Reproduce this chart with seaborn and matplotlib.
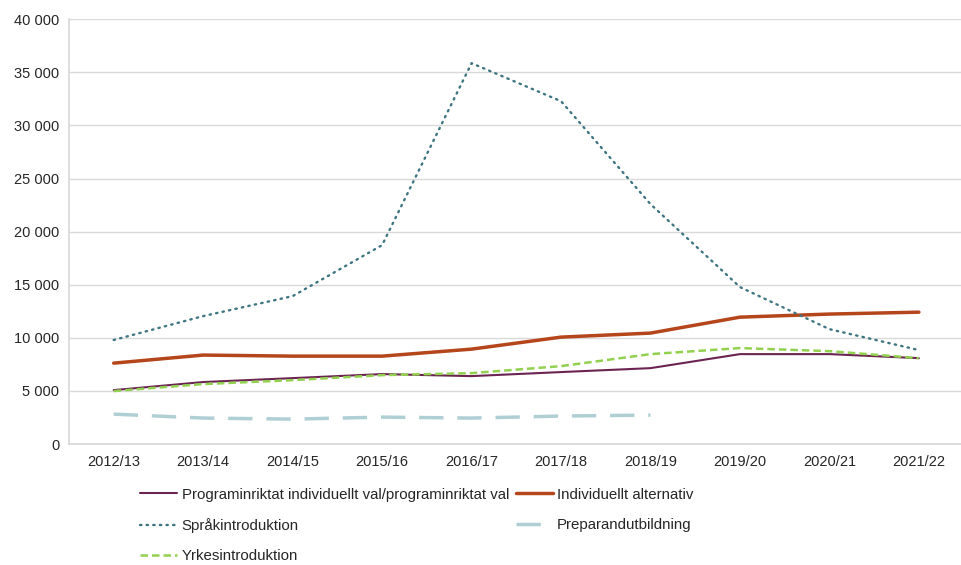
import matplotlib
matplotlib.use("Agg")
import matplotlib.pyplot as plt
import matplotlib.ticker as mticker
import numpy as np
import pandas as pd
import seaborn as sns

years = ["2012/13", "2013/14", "2014/15", "2015/16", "2016/17",
         "2017/18", "2018/19", "2019/20", "2020/21", "2021/22"]

programinriktat = [5080, 5840, 6210, 6590, 6400, 6780, 7150, 8470, 8470, 8090]
individuellt = [7620, 8380, 8280, 8280, 8940, 10070, 10450, 11950, 12240, 12420]
sprak = [9800, 12050, 13930, 18730, 35860, 32280, 22590, 14780, 10820, 8850]
preparand = [2820, 2450, 2350, 2540, 2450, 2640, 2730, np.nan, np.nan, np.nan]
yrkes = [4990, 5650, 6020, 6490, 6680, 7340, 8470, 9040, 8750, 8090]

series_names = ["Programinriktat individuellt val/programinriktat val",
                "Individuellt alternativ",
                "Språkintroduktion",
                "Preparandutbildning",
                "Yrkesintroduktion"]

sns.set_theme(style="white")
plt.rcParams["font.family"] = ["Liberation Sans", "DejaVu Sans"]

fig = plt.figure(figsize=(9.62, 5.65), dpi=100)
ax = fig.add_axes([0.0717, 0.214, 0.93, 0.752])

x = np.arange(len(years))
df = pd.DataFrame({"x": x,
                   series_names[0]: programinriktat,
                   series_names[1]: individuellt,
                   series_names[2]: sprak,
                   series_names[3]: preparand,
                   series_names[4]: yrkes})

styles = {
    series_names[0]: dict(color="#6b2452", lw=1.5, ls="-"),
    series_names[1]: dict(color="#b5451b", lw=2.5, ls="-"),
    series_names[2]: dict(color="#3e7580", lw=1.7, ls=(0, (0.6, 2.2))),
    series_names[3]: dict(color="#b0cfd5", lw=2.5, ls=(0, (7, 4))),
    series_names[4]: dict(color="#92d050", lw=1.8, ls=(0, (3, 1.6))),
}

handles = {}
for name in series_names:
    st = styles[name]
    sns.lineplot(data=df, x="x", y=name, ax=ax, color=st["color"],
                 linewidth=st["lw"], linestyle=st["ls"], label=name,
                 legend=False)
    handles[name] = ax.lines[-1]
    if name == series_names[2]:
        ax.lines[-1].set_dash_capstyle("round")

ax.set_xlim(-0.5, len(years) - 0.5)
ax.set_ylim(0, 40000)
ax.set_xticks(x)
ax.set_xticklabels(years, fontsize=10.5)
ax.yaxis.set_major_locator(mticker.MultipleLocator(5000))
ax.yaxis.set_major_formatter(mticker.FuncFormatter(
    lambda v, p: f"{int(v):,}".replace(",", " ")))
ax.tick_params(axis="y", labelsize=10.5, length=0, pad=7)
ax.tick_params(axis="x", length=0, pad=8)
ax.set_xlabel("")
ax.set_ylabel("")
ax.grid(axis="y", color="#d9d9d9", linewidth=1)
ax.set_axisbelow(True)
for s in ["top", "right"]:
    ax.spines[s].set_visible(False)
ax.spines["left"].set_color("#d9d9d9")
ax.spines["bottom"].set_color("#d9d9d9")

order = [series_names[0], series_names[2], series_names[4],
         series_names[1], series_names[3]]
fig.legend([handles[n] for n in order], order, loc="upper left",
           bbox_to_anchor=(0.1455, 0.137), ncol=2, frameon=False,
           fontsize=10.8, handlelength=2.5, handletextpad=0.27,
           columnspacing=0.45, labelspacing=1.08, borderaxespad=0,
           borderpad=0)

fig.savefig("out.png", dpi=100)
